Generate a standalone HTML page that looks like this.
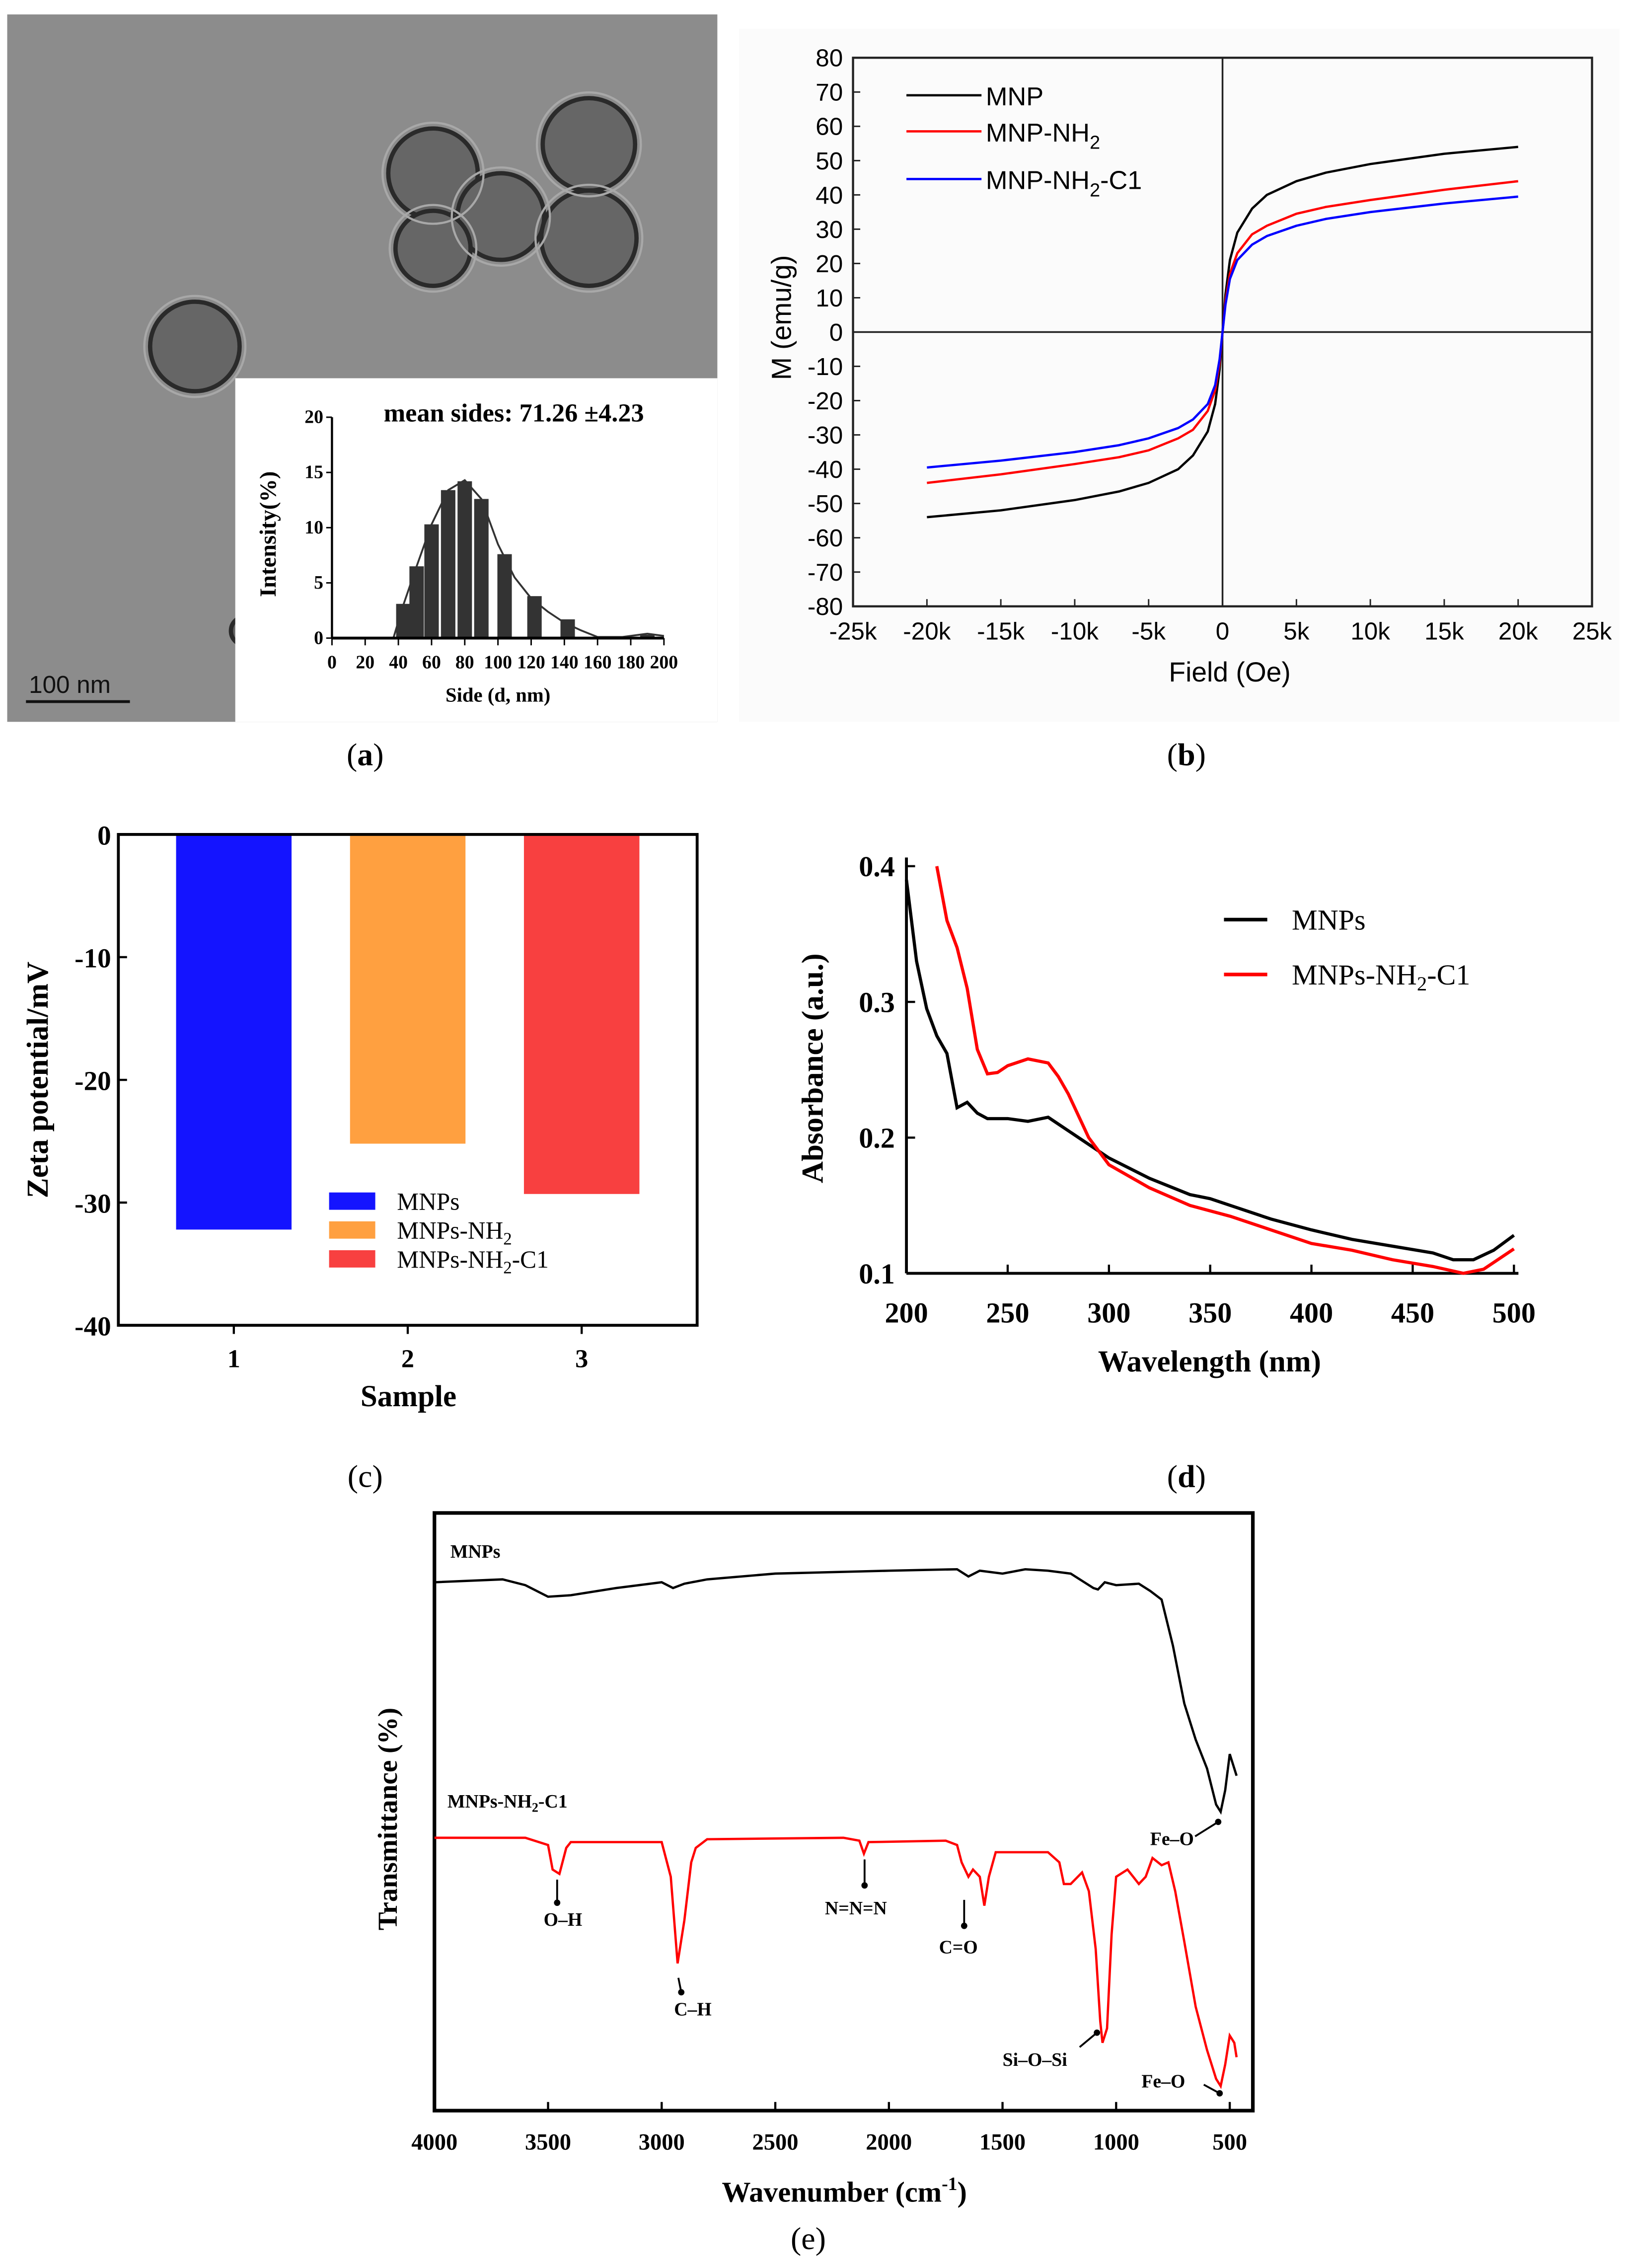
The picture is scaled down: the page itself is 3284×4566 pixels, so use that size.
<!DOCTYPE html>
<html><head><meta charset="utf-8"><style>
html,body{margin:0;padding:0;background:#fff}
svg{display:block}
text{font-family:"Liberation Serif",serif}
.ar{font-family:"Liberation Sans",sans-serif}
</style></head><body>
<svg id="fig" width="3284" height="4566" viewBox="0 0 1130 1571" preserveAspectRatio="none" xmlns="http://www.w3.org/2000/svg">
<rect width="1130" height="1571" fill="#fff"/>
<g>
<rect x="5" y="10" width="492" height="490" fill="#8c8c8c"/>
<g fill="#666" stroke="#2a2a2a" stroke-width="3">
<circle cx="300" cy="120" r="31"/><circle cx="408" cy="100" r="32"/><circle cx="347" cy="150" r="30"/>
<circle cx="300" cy="172" r="26"/><circle cx="408" cy="165" r="33"/><circle cx="135" cy="240" r="31"/><circle cx="170" cy="437" r="10"/>
</g>
<g fill="none" stroke="#a8a8a8" stroke-width="1.5">
<circle cx="300" cy="120" r="35"/><circle cx="408" cy="100" r="36"/><circle cx="347" cy="150" r="34"/>
<circle cx="300" cy="172" r="30"/><circle cx="408" cy="165" r="37"/><circle cx="135" cy="240" r="35"/>
</g>
<line x1="18" y1="486" x2="90" y2="486" stroke="#111" stroke-width="2"/>
<text x="20" y="480" font-size="17" class="ar" fill="#111">100  nm</text>
<rect x="163" y="262" width="334" height="238" fill="#fff"/>
</g>
<g id="inset"></g>
<text x="356" y="292" font-size="18" font-weight="bold" text-anchor="middle">mean sides: 71.26 ±4.23</text>
<text x="253" y="530" font-size="22" text-anchor="middle">(<tspan font-weight="bold">a</tspan>)</text>
<rect x="512" y="20" width="610" height="480" fill="#fbfbfb"/>
<g id="pb"></g>
<text x="822" y="530" font-size="22" text-anchor="middle">(<tspan font-weight="bold">b</tspan>)</text>
<g id="pc"></g>
<text x="253" y="1030" font-size="22" text-anchor="middle">(c)</text>
<g id="pd"></g>
<text x="822" y="1030" font-size="22" text-anchor="middle">(<tspan font-weight="bold">d</tspan>)</text>
<g id="pe"></g>
<text x="560" y="1558" font-size="22" text-anchor="middle">(e)</text>
</svg>
<script>
const histX=[43,51,60,70,80,90,104,122,142,190];
const histY=[3.1,6.5,10.3,13.4,14.2,12.6,7.6,3.8,1.7,0.3];
const fitX=[0,37,43,51,60,70,80,90,100,110,120,130,140,150,160,175,190,200];
const fitY=[0,0,3,6.5,10.3,13.4,14.3,12.6,8.5,5.5,3.6,2.4,1.4,0.7,0.1,0.1,0.4,0.2];
const histTicks=[0,20,40,60,80,100,120,140,160,180,200];
const fieldK=[-20,-15,-10,-7,-5,-3,-2,-1,-0.5,-0.2,0,0.2,0.5,1,2,3,5,7,10,15,20];
const mMNP=[-54,-52,-49,-46.5,-44,-40,-36,-29,-21,-11,0,11,21,29,36,40,44,46.5,49,52,54];
const mNH2=[-44,-41.5,-38.5,-36.5,-34.5,-31,-28.5,-23,-17,-9,0,9,17,23,28.5,31,34.5,36.5,38.5,41.5,44];
const mC1=[-39.5,-37.5,-35,-33,-31,-28,-25.5,-21,-15.5,-8,0,8,15.5,21,25.5,28,31,33,35,37.5,39.5];
const bXTicks=[-25,-20,-15,-10,-5,0,5,10,15,20,25];
const bYTicks=[80,70,60,50,40,30,20,10,0,-10,-20,-30,-40,-50,-60,-70,-80];
const samples=[1,2,3];
const zeta=[-32.2,-25.2,-29.3];
const zetaColors=['#1414ff','#ffa040','#f84040'];
const zetaNames=['MNPs','MNPs-NH2','MNPs-NH2-C1'];
const cYTicks=[0,-10,-20,-30,-40];
const wlA=[200,205,210,215,220,225,230,235,240,250,260,270,280,290,300,320,340,350,360,380,400,420,440,460,470,480,490,500];
const absA=[0.39,0.33,0.295,0.275,0.262,0.222,0.226,0.218,0.214,0.214,0.212,0.215,0.205,0.195,0.185,0.17,0.158,0.155,0.15,0.14,0.132,0.125,0.12,0.115,0.11,0.11,0.117,0.128];
const wlB=[215,220,225,230,235,240,245,250,260,270,275,280,290,300,320,340,360,380,400,420,440,460,475,485,500];
const absB=[0.4,0.36,0.34,0.31,0.265,0.247,0.248,0.253,0.258,0.255,0.245,0.232,0.2,0.18,0.163,0.15,0.142,0.132,0.122,0.117,0.11,0.105,0.1,0.103,0.118];
const dXTicks=[200,250,300,350,400,450,500];
const dYTicks=[0.1,0.2,0.3,0.4];
const wnA=[4000,3700,3600,3500,3400,3200,3000,2950,2900,2800,2500,2000,1700,1650,1600,1500,1400,1300,1200,1150,1100,1080,1050,1000,900,850,800,750,700,650,600,560,540,520,500,480,470];
const trA=[366,368,364,356,357,362,366,362,365,368,372,374,375,370,374,372,375,374,372,367,362,361,366,364,365,360,354,322,282,257,237,212,207,222,247,237,232];
const wnB=[4000,3600,3500,3480,3450,3420,3400,3000,2960,2930,2900,2870,2850,2800,2200,2130,2110,2090,1750,1700,1680,1650,1630,1600,1580,1560,1530,1300,1250,1230,1200,1150,1120,1090,1070,1060,1040,1020,1000,950,900,870,840,800,770,740,700,650,600,560,540,520,500,480,470];
const trB=[189,189,184,167,164,182,186,186,162,102,132,172,182,188,189,187,178,186,187,184,172,162,167,162,142,162,179,179,172,157,157,165,152,112,62,47,57,122,162,167,157,162,175,170,172,152,117,72,42,22,17,32,52,47,37];
const eXTicks=[4000,3500,3000,2500,2000,1500,1000,500];

const NS='http://www.w3.org/2000/svg';
function mk(parent,tag,attrs,txt){const e=document.createElementNS(NS,tag);for(const k in attrs)e.setAttribute(k,attrs[k]);if(txt!==undefined)e.textContent=txt;parent.appendChild(e);return e;}
function pts(xs,ys,fx,fy){return xs.map((x,i)=>fx(x).toFixed(2)+','+fy(ys[i]).toFixed(2)).join(' ');}

(function(){
const g=document.getElementById('inset');
const X=v=>230+v*1.15, Y=v=>442-v*7.65;
histX.forEach((x,i)=>{const r=mk(g,'rect',{x:X(x)-5,y:Y(histY[i]),width:10,height:Y(0)-Y(histY[i]),fill:'#333'});

});
const l=mk(g,'polyline',{points:pts(fitX,fitY,X,Y),fill:'none',stroke:'#333','stroke-width':1.3});


mk(g,'line',{x1:X(0),y1:Y(0),x2:X(200),y2:Y(0),stroke:'#000','stroke-width':2});
mk(g,'line',{x1:X(0),y1:Y(0),x2:X(0),y2:Y(20),stroke:'#000','stroke-width':1.5});
histTicks.forEach(t=>{mk(g,'line',{x1:X(t),y1:Y(0),x2:X(t),y2:Y(0)+5,stroke:'#000'});
const tx=mk(g,'text',{x:X(t),y:463,'font-size':13,'font-weight':'bold','text-anchor':'middle'},t);

});
[0,5,10,15,20].forEach(t=>{mk(g,'line',{x1:X(0)-4,y1:Y(t),x2:X(0),y2:Y(t),stroke:'#000'});
const tx=mk(g,'text',{x:X(0)-6,y:Y(t)+4,'font-size':13,'font-weight':'bold','text-anchor':'end'},t);

});
const xl=mk(g,'text',{x:345,y:486,'font-size':14,'font-weight':'bold','text-anchor':'middle'},'Side (d, nm)');


const yl=mk(g,'text',{x:0,y:0,'font-size':16,'font-weight':'bold','text-anchor':'middle',transform:'translate(191,370) rotate(-90)'},'Intensity(%)');


})();

(function(){
const g=document.getElementById('pb');
const X=k=>847+k*10.24, Y=v=>230-v*2.375;
mk(g,'rect',{x:591,y:40,width:512,height:380,fill:'none',stroke:'#222','stroke-width':1.5});
mk(g,'line',{x1:591,y1:Y(0),x2:1103,y2:Y(0),stroke:'#222','stroke-width':1.2});
mk(g,'line',{x1:X(0),y1:40,x2:X(0),y2:420,stroke:'#222','stroke-width':1.2});
bXTicks.forEach(t=>{mk(g,'line',{x1:X(t),y1:420,x2:X(t),y2:415,stroke:'#222'});
const tx=mk(g,'text',{x:X(t),y:443,'font-size':17,'text-anchor':'middle',class:'ar'},t===0?'0':t+'k');

});
bYTicks.forEach(t=>{mk(g,'line',{x1:591,y1:Y(t),x2:596,y2:Y(t),stroke:'#222'});
const tx=mk(g,'text',{x:584,y:Y(t)+6,'font-size':17,'text-anchor':'end',class:'ar'},t);

});
[[mMNP,'#000','mnp'],[mNH2,'#f00','mnp-nh2'],[mC1,'#00f','mnp-nh2-c1']].forEach(s=>{
const l=mk(g,'polyline',{points:pts(fieldK,s[0],X,Y),fill:'none',stroke:s[1],'stroke-width':1.6,'stroke-linejoin':'round'});

});
[[66,'#000','MNP',''],[91,'#f00','MNP-NH','2'],[124,'#00f','MNP-NH','2']].forEach((d,i)=>{
mk(g,'line',{x1:628,y1:d[0],x2:680,y2:d[0],stroke:d[1],'stroke-width':1.6});
const t=mk(g,'text',{x:683,y:d[0]+7,'font-size':18,class:'ar'},d[2]);


if(d[3]){mk(t,'tspan',{'font-size':13,dy:5},d[3]);}
if(i===2){mk(t,'tspan',{dy:-5},'-C1');}
});
const xl=mk(g,'text',{x:852,y:472,'font-size':19,'text-anchor':'middle',class:'ar'},'Field (Oe)');


const yl=mk(g,'text',{x:0,y:0,'font-size':19,'text-anchor':'middle',class:'ar',transform:'translate(548,220) rotate(-90)'},'M (emu/g)');


})();

(function(){
const g=document.getElementById('pc');
const X=s=>162+(s-1)*120.5, Y=v=>578-v*8.5;
samples.forEach((s,i)=>{const r=mk(g,'rect',{x:X(s)-40,y:Y(0),width:80,height:Y(zeta[i])-Y(0),fill:zetaColors[i]});

});
mk(g,'rect',{x:82,y:578,width:401,height:340,fill:'none',stroke:'#000','stroke-width':2});
cYTicks.forEach(t=>{mk(g,'line',{x1:82,y1:Y(t),x2:88,y2:Y(t),stroke:'#000','stroke-width':1.5});
const tx=mk(g,'text',{x:77,y:Y(t)+7,'font-size':19,'font-weight':'bold','text-anchor':'end'},t);

});
samples.forEach(s=>{mk(g,'line',{x1:X(s),y1:918,x2:X(s),y2:924,stroke:'#000','stroke-width':1.5});
const tx=mk(g,'text',{x:X(s),y:947,'font-size':18,'font-weight':'bold','text-anchor':'middle'},s);

});
zetaNames.forEach((n,i)=>{const y=832+i*20;
mk(g,'rect',{x:228,y:y-6,width:32,height:12,fill:zetaColors[i]});
const t=mk(g,'text',{x:275,y:y+6,'font-size':17},n==='MNPs'?'MNPs':'MNPs-NH');


if(n!=='MNPs'){mk(t,'tspan',{'font-size':12,dy:4},'2');if(i===2)mk(t,'tspan',{dy:-4},'-C1');}
});
const xl=mk(g,'text',{x:283,y:974,'font-size':21,'font-weight':'bold','text-anchor':'middle'},'Sample');


const yl=mk(g,'text',{x:0,y:0,'font-size':21,'font-weight':'bold','text-anchor':'middle',transform:'translate(33,748) rotate(-90)'},'Zeta potential/mV');


})();

(function(){
const g=document.getElementById('pd');
const X=w=>628+(w-200)*1.403, Y=v=>882-(v-0.1)*940;
mk(g,'line',{x1:628,y1:594,x2:628,y2:882,stroke:'#000','stroke-width':2});
mk(g,'line',{x1:628,y1:882,x2:1052,y2:882,stroke:'#000','stroke-width':2});
dXTicks.forEach(t=>{mk(g,'line',{x1:X(t),y1:882,x2:X(t),y2:876,stroke:'#000','stroke-width':1.5});
const tx=mk(g,'text',{x:X(t),y:916,'font-size':20,'font-weight':'bold','text-anchor':'middle'},t);

});
dYTicks.forEach(t=>{mk(g,'line',{x1:628,y1:Y(t),x2:634,y2:Y(t),stroke:'#000','stroke-width':1.5});
const tx=mk(g,'text',{x:620,y:Y(t)+7,'font-size':20,'font-weight':'bold','text-anchor':'end'},t.toFixed(1));

});
const a=mk(g,'polyline',{points:pts(wlA,absA,X,Y),fill:'none',stroke:'#000','stroke-width':2.2});


const b=mk(g,'polyline',{points:pts(wlB,absB,X,Y),fill:'none',stroke:'#f00','stroke-width':2.2});


mk(g,'line',{x1:848,y1:637,x2:878,y2:637,stroke:'#000','stroke-width':2.5});
mk(g,'line',{x1:848,y1:675,x2:878,y2:675,stroke:'#f00','stroke-width':2.5});
const l1=mk(g,'text',{x:895,y:644,'font-size':20},'MNPs');


const l2=mk(g,'text',{x:895,y:682,'font-size':20},'MNPs-NH');


mk(l2,'tspan',{'font-size':14,dy:4},'2');mk(l2,'tspan',{dy:-4},'-C1');
const xl=mk(g,'text',{x:838,y:950,'font-size':21,'font-weight':'bold','text-anchor':'middle'},'Wavelength (nm)');


const yl=mk(g,'text',{x:0,y:0,'font-size':21,'font-weight':'bold','text-anchor':'middle',transform:'translate(570,740) rotate(-90)'},'Absorbance (a.u.)');


})();

(function(){
const g=document.getElementById('pe');
const X=w=>301+(4000-w)*0.15743, Y=v=>1462-v;
mk(g,'rect',{x:301,y:1048,width:567,height:414,fill:'none',stroke:'#000','stroke-width':2.5});
eXTicks.forEach(t=>{mk(g,'line',{x1:X(t),y1:1462,x2:X(t),y2:1456,stroke:'#000','stroke-width':1.5});
const tx=mk(g,'text',{x:X(t),y:1489,'font-size':16,'font-weight':'bold','text-anchor':'middle'},t);

});
const a=mk(g,'polyline',{points:pts(wnA,trA,X,Y),fill:'none',stroke:'#000','stroke-width':1.6});


const b=mk(g,'polyline',{points:pts(wnB,trB,X,Y),fill:'none',stroke:'#f00','stroke-width':1.6});


const lab=[['MNPs',312,1079,'start'],['O–H',390,1334,'middle'],['C–H',480,1396,'middle'],['N=N=N',593,1326,'middle'],['C=O',664,1353,'middle'],['Si–O–Si',717,1431,'middle'],['Fe–O',812,1278,'middle'],['Fe–O',806,1446,'middle']];
lab.forEach(d=>{const t=mk(g,'text',{x:d[1],y:d[2],'font-size':13,'font-weight':'bold','text-anchor':d[3]},d[0]);

});
const t2=mk(g,'text',{x:310,y:1252,'font-size':13,'font-weight':'bold'},'MNPs-NH');


mk(t2,'tspan',{'font-size':9,dy:3},'2');mk(t2,'tspan',{dy:-3},'-C1');
const arrows=[[386,1302,386,1318],[599,1288,599,1306],[668,1316,668,1334],[470,1370,472,1380],[748,1418,760,1408],[828,1272,844,1262],[834,1444,845,1450]];
arrows.forEach(a=>{mk(g,'line',{x1:a[0],y1:a[1],x2:a[2],y2:a[3],stroke:'#000','stroke-width':1.3});
mk(g,'circle',{cx:a[2],cy:a[3],r:2.2,fill:'#000'});});
const xl=mk(g,'text',{x:585,y:1525,'font-size':20,'font-weight':'bold','text-anchor':'middle'},'Wavenumber (cm');


mk(xl,'tspan',{'font-size':13,dy:-8},'-1');mk(xl,'tspan',{dy:8},')');
const yl=mk(g,'text',{x:0,y:0,'font-size':19,'font-weight':'bold','text-anchor':'middle',transform:'translate(275,1260) rotate(-90)'},'Transmittance (%)');


})();
</script>
</body></html>
